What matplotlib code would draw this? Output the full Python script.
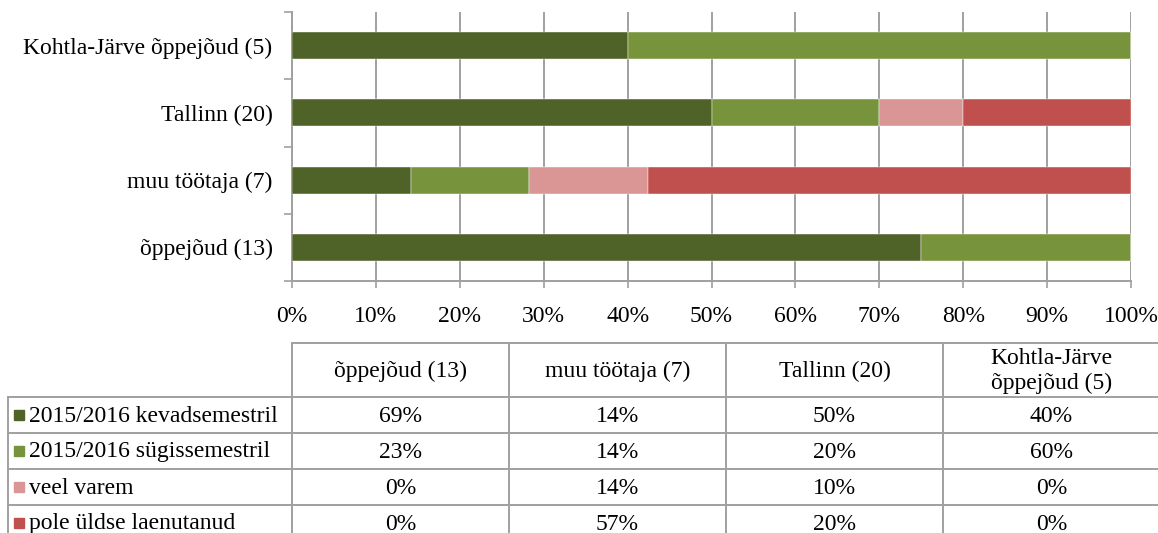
import matplotlib
matplotlib.use("Agg")
import matplotlib.pyplot as plt
import numpy as np

categories = ['õppejõud (13)', 'muu töötaja (7)', 'Tallinn (20)', 'Kohtla-Järve õppejõud (5)']
header_labels = ['õppejõud (13)', 'muu töötaja (7)', 'Tallinn (20)', 'Kohtla-Järve\nõppejõud (5)']
series_names = ['2015/2016 kevadsemestril', '2015/2016 sügissemestril', 'veel varem', 'pole üldse laenutanud']
kevad = [69, 14, 50, 40]
sugis = [23, 14, 20, 60]
varem = [0, 14, 10, 0]
pole = [0, 57, 20, 0]
colors = ['#4F6228', '#77933C', '#D99694', '#C0504D']
xtick_labels = ['0%', '10%', '20%', '30%', '40%', '50%', '60%', '70%', '80%', '90%', '100%']

plt.rcParams['font.family'] = ['Liberation Serif', 'DejaVu Serif']
FS = 17

W, H = 1158, 533
fig = plt.figure(figsize=(W / 100, H / 100), dpi=100)

# plot area in pixels
L, R, T, B = 292, 1131, 12, 281
ax = fig.add_axes([L / W, 1 - B / H, (R - L) / W, (B - T) / H])

data = np.array([kevad, sugis, varem, pole], dtype=float)
totals = data.sum(axis=0)
shares = data / totals * 100
y = np.arange(len(categories))
left = np.zeros(len(categories))
grid_c = '#A0A0A0'
for i in range(len(series_names)):
    ax.barh(y, shares[i], left=left, height=0.4, color=colors[i], zorder=3,
            edgecolor='white', linewidth=0.3)
    left += shares[i]

ax.set_xlim(0, 100)
ax.set_ylim(-0.5, len(categories) - 0.5)
ax.set_xticks(np.arange(0, 101, 10))
ax.set_xticklabels(xtick_labels, fontsize=FS)
ax.set_yticks(y)
ax.set_yticklabels(categories, fontsize=FS)
ax.set_yticks(np.arange(-0.5, len(categories)), minor=True)
ax.tick_params(axis='y', which='major', length=0, pad=14)
ax.tick_params(axis='y', which='minor', length=6, color=grid_c, width=1.2)
ax.tick_params(axis='x', which='major', length=5, color=grid_c, width=1.2, pad=13)
ax.grid(axis='x', color=grid_c, linewidth=1.4, zorder=0)
for s in ['top', 'right']:
    ax.spines[s].set_visible(False)
for s in ['left', 'bottom']:
    ax.spines[s].set_color(grid_c)
    ax.spines[s].set_linewidth(1.4)

# data table
tax = fig.add_axes([0, 0, 1, 1], zorder=5)
tax.set_xlim(0, W)
tax.set_ylim(H, 0)
tax.axis('off')
colw = 217
col_edges = [L + k * colw for k in range(len(categories) + 1)]
head_top, head_bot = 343, 397
rowh = 36
row_edges = [head_bot + k * rowh for k in range(len(series_names) + 1)]
leg_left = 8
lc = '#A0A0A0'
lw = 1.4
tax.plot([L, W + 10], [head_top, head_top], color=lc, lw=lw, clip_on=False)
for xe in col_edges:
    tax.plot([xe, xe], [head_top, row_edges[-1]], color=lc, lw=lw)
tax.plot([leg_left, leg_left], [head_bot, row_edges[-1]], color=lc, lw=lw)
for ye in row_edges:
    tax.plot([leg_left, W + 10], [ye, ye], color=lc, lw=lw)

for j, lab in enumerate(header_labels):
    cx = (col_edges[j] + col_edges[j + 1]) / 2
    tax.text(cx, (head_top + head_bot) / 2 + 1, lab, ha='center', va='center',
             fontsize=FS, linespacing=1.25)

for i, name in enumerate(series_names):
    cy = (row_edges[i] + row_edges[i + 1]) / 2
    tax.add_patch(plt.Rectangle((14, cy - 5), 10, 10, color=colors[i]))
    tax.text(29, cy + 1, name, ha='left', va='center', fontsize=FS)
    for j in range(len(categories)):
        cx = (col_edges[j] + col_edges[j + 1]) / 2
        tax.text(cx, cy + 1, f'{int(data[i, j])}%', ha='center', va='center', fontsize=FS)

fig.savefig('out.png', dpi=100)
